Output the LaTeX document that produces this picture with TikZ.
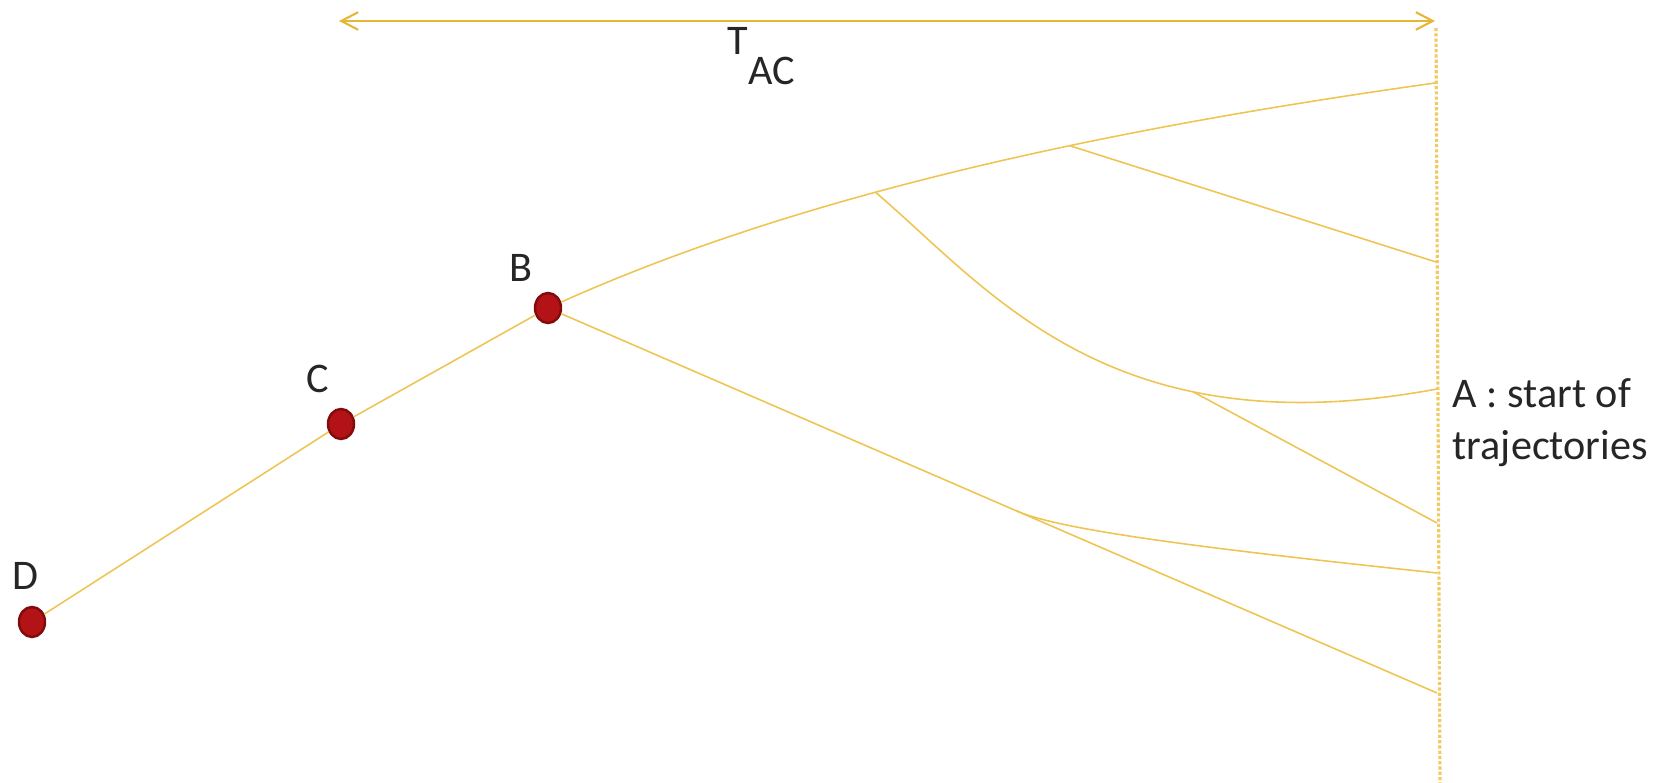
\documentclass[tikz,border=0pt]{standalone}
\usepackage{fontspec}
\setmainfont{Carlito}
\usetikzlibrary{arrows.meta,shapes.geometric}
\definecolor{trajcol}{HTML}{EEC452}
\definecolor{spancol}{HTML}{E8B636}
\definecolor{dotred}{HTML}{B31217}
\definecolor{dotrim}{HTML}{820C0C}
\begin{document}
\begin{tikzpicture}[x=0.01cm, y=-0.01cm,
  every node/.style={font=\fontsize{12}{14.5}\selectfont, text=black!85},
  trajline/.style={draw=trajcol, line width=0.45pt},
  spanline/.style={draw=spancol, line width=0.6pt, {Straight Barb[length=4.8pt,width=5pt]}-{Straight Barb[length=4.8pt,width=5pt]}},
  startline/.style={draw=trajcol!90, line width=0.9pt, dash pattern=on 0.9pt off 0.6pt},
  pt/.style={ellipse, fill=dotred, draw=dotrim, line width=0.7pt, minimum width=0.26cm, minimum height=0.3cm, inner sep=0pt}]
  \useasboundingbox (0,0) rectangle (1659,783);

  % points on the track
  \node[pt] (D) at (32,622) {};
  \node[pt] (C) at (341,424) {};
  \node[pt] (B) at (548,308) {};

  % ends of the trajectories on A
  \coordinate (A1) at (1435,83);
  \coordinate (A2) at (1436,262);
  \coordinate (A3) at (1437,389);
  \coordinate (A4) at (1437,523);
  \coordinate (A5) at (1437,573);
  \coordinate (A6) at (1437,693);

  \coordinate (L) at (339,21);
  \coordinate (R) at (1435,21);
  \coordinate (Vt) at (1436,28);
  \coordinate (Vb) at (1440,783);

  \draw[spanline] (L) -- (R);
  \draw[startline] (Vt) -- (Vb);

  \draw[trajline] (D) -- (C) -- (B);
  \draw[trajline] (B) .. controls (800,195) and (1100,130) .. (A1)
    coordinate[pos=0.4] (P1) coordinate[pos=0.62] (P2);
  \draw[trajline] (P2) -- (A2);
  \draw[trajline] (P1) .. controls (990,290) and (1110,450) .. (A3)
    coordinate[pos=0.7] (P3);
  \draw[trajline] (P3) -- (A4);
  \draw[trajline] (B) -- (A6) coordinate[pos=0.52] (P4);
  \draw[trajline] (P4) .. controls (1060,530) and (1200,548) .. (A5);

  \node[anchor=base] (Dlab) at (25,590) {D};
  \node[anchor=base] (Clab) at (318,393) {C};
  \node[anchor=base] (Blab) at (521,282) {B};
  \node[anchor=base west, inner sep=0pt] (Tac) at (727,55) {T\raisebox{-0.29cm}{AC}};
  \node[anchor=base west, inner sep=0pt] (Alab1) at (1452,408) {A : start of};
  \node[anchor=base west, inner sep=0pt] (Alab2) at (1452,460) {trajectories};
\end{tikzpicture}
\end{document}
